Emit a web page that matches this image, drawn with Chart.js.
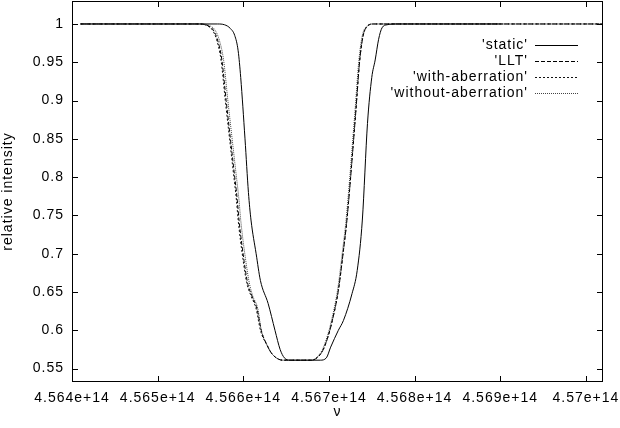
<!DOCTYPE html>
<html>
<head>
<meta charset="utf-8">
<script src="https://cdn.jsdelivr.net/npm/chart.js@4.4.1/dist/chart.umd.min.js"></script>
<style>
  html, body { margin: 0; padding: 0; background: #fff; }
  #wrap { width: 620px; height: 428px; }
</style>
</head>
<body>
<div id="wrap"><canvas id="lineChart" width="620" height="428"></canvas></div>
<script>
// frequency ticks (Hz) and labels as gnuplot prints them
const xTicks = [4.564e14, 4.565e14, 4.566e14, 4.567e14, 4.568e14, 4.569e14, 4.570e14];
const xTickLabels = ['4.564e+14', '4.565e+14', '4.566e+14', '4.567e+14', '4.568e+14', '4.569e+14', '4.57e+14'];
const yTicks = [0.55, 0.6, 0.65, 0.7, 0.75, 0.8, 0.85, 0.9, 0.95, 1];
const yTickLabels = ['0.55', '0.6', '0.65', '0.7', '0.75', '0.8', '0.85', '0.9', '0.95', '1'];

const seriesNames = ["'static'", "'LLT'", "'with-aberration'", "'without-aberration'"];

// 'static'
const staticX = [4.56410e14, 4.56570e14, 4.56578e14, 4.56585e14, 4.56590e14, 4.56594e14, 4.56597e14, 4.56602e14, 4.56606e14, 4.56609e14, 4.56615e14, 4.56620e14, 4.56629e14, 4.56637e14, 4.56643e14, 4.56648e14, 4.56655e14, 4.56690e14, 4.56697e14, 4.56702e14, 4.56711e14, 4.56717e14, 4.56727e14, 4.56733e14, 4.56739e14, 4.56745e14, 4.56750e14, 4.56754e14, 4.56758e14, 4.56762e14, 4.56768e14, 4.56780e14, 4.56900e14];
const staticY = [1, 1, 0.999, 0.994, 0.985, 0.965, 0.930, 0.850, 0.780, 0.744, 0.700, 0.665, 0.635, 0.600, 0.575, 0.564, 0.561, 0.561, 0.564, 0.578, 0.600, 0.613, 0.648, 0.678, 0.744, 0.870, 0.930, 0.953, 0.980, 0.995, 0.999, 1, 1];

// 'LLT'
const lltX = [4.56410e14, 4.56550e14, 4.56560e14, 4.56565e14, 4.56570e14, 4.56575e14, 4.56580e14, 4.56589e14, 4.56593e14, 4.56595e14, 4.56601e14, 4.56605e14, 4.56610e14, 4.56616e14, 4.56621e14, 4.56628e14, 4.56633e14, 4.56640e14, 4.56646e14, 4.56680e14, 4.56687e14, 4.56693e14, 4.56699e14, 4.56704e14, 4.56711e14, 4.56717e14, 4.56721e14, 4.56731e14, 4.56736e14, 4.56740e14, 4.56745e14, 4.56752e14, 4.57020e14];
const lltY = [1, 1, 0.997, 0.992, 0.979, 0.953, 0.900, 0.810, 0.770, 0.744, 0.690, 0.662, 0.645, 0.628, 0.600, 0.580, 0.570, 0.563, 0.561, 0.561, 0.565, 0.574, 0.592, 0.613, 0.652, 0.705, 0.744, 0.880, 0.953, 0.985, 0.997, 1, 1];

// 'with-aberration'
const withX = [4.56410e14, 4.56549e14, 4.56559e14, 4.56564e14, 4.56569e14, 4.56574e14, 4.56579e14, 4.56588e14, 4.56592e14, 4.56594e14, 4.56600e14, 4.56604e14, 4.56609e14, 4.56615e14, 4.56620e14, 4.56628e14, 4.56633e14, 4.56640e14, 4.56646e14, 4.56680e14, 4.56687e14, 4.56693e14, 4.56699e14, 4.56704e14, 4.56711e14, 4.56717e14, 4.56721e14, 4.56731e14, 4.56736e14, 4.56740e14, 4.56745e14, 4.56752e14, 4.57020e14];
const withY = [1, 1, 0.997, 0.992, 0.979, 0.953, 0.900, 0.810, 0.770, 0.744, 0.690, 0.662, 0.645, 0.628, 0.600, 0.580, 0.570, 0.563, 0.561, 0.561, 0.565, 0.574, 0.592, 0.613, 0.652, 0.705, 0.744, 0.880, 0.953, 0.985, 0.997, 1, 1];

// 'without-aberration'
const withoutX = [4.56410e14, 4.56552e14, 4.56562e14, 4.56567e14, 4.56572e14, 4.56577e14, 4.56582e14, 4.56591e14, 4.56595e14, 4.56597e14, 4.56603e14, 4.56607e14, 4.56611e14, 4.56617e14, 4.56621e14, 4.56628e14, 4.56633e14, 4.56640e14, 4.56646e14, 4.56680e14, 4.56686e14, 4.56692e14, 4.56698e14, 4.56703e14, 4.56710e14, 4.56716e14, 4.56720e14, 4.56730e14, 4.56735e14, 4.56739e14, 4.56744e14, 4.56751e14, 4.57020e14];
const withoutY = [1, 1, 0.997, 0.992, 0.979, 0.953, 0.900, 0.810, 0.770, 0.744, 0.690, 0.662, 0.645, 0.628, 0.600, 0.580, 0.570, 0.563, 0.561, 0.561, 0.565, 0.574, 0.592, 0.613, 0.652, 0.705, 0.744, 0.880, 0.953, 0.985, 0.997, 1, 1];

const FONT = "'Liberation Sans', Arial, sans-serif";
const dashes = [[], [4, 2], [2, 2], [1, 1]];
const colors = ['#000000', '#000000', '#111111', '#444444'];

function toPoints(xs, ys) {
    return xs.map((x, i) => ({ x: x, y: ys[i] }));
}

// gnuplot's bitmap font is wide, a bit of letter spacing gets close
const spacing = {
    id: 'spacing',
    beforeUpdate(chart) { chart.ctx.letterSpacing = '1px'; },
    beforeDraw(chart) { chart.ctx.letterSpacing = '1px'; }
};

// gnuplot-like frame, inward ticks on all sides, legend inside top-right
const gnuFrame = {
    id: 'gnuFrame',
    afterDraw(chart) {
        const c = chart.ctx;
        const a = chart.chartArea;
        const xs = chart.scales.x, ys = chart.scales.y;
        const tl = 6;
        c.save();
        c.strokeStyle = '#000';
        c.lineWidth = 1;
        c.setLineDash([]);
        c.beginPath();
        xs.ticks.forEach(t => {
            const p = Math.round(xs.getPixelForValue(t.value)) + 0.5;
            c.moveTo(p, a.bottom); c.lineTo(p, a.bottom - tl);
            c.moveTo(p, a.top); c.lineTo(p, a.top + tl);
        });
        ys.ticks.forEach(t => {
            const p = Math.round(ys.getPixelForValue(t.value)) + 0.5;
            c.moveTo(a.left, p); c.lineTo(a.left + tl, p);
            c.moveTo(a.right, p); c.lineTo(a.right - tl, p);
        });
        c.stroke();
        c.strokeRect(Math.round(a.left) + 0.5, Math.round(a.top) + 0.5,
            Math.round(a.right - a.left) - 1, Math.round(a.bottom - a.top) - 1);

        // legend
        c.font = '14px ' + FONT;
        c.letterSpacing = '1px';
        c.textAlign = 'right';
        c.textBaseline = 'middle';
        chart.data.datasets.forEach((ds, i) => {
            const y = 45 + i * 16;
            c.fillStyle = '#000';
            c.fillText(ds.label, 528, y);
            c.strokeStyle = ds.borderColor;
            c.setLineDash(ds.borderDash);
            c.beginPath();
            c.moveTo(535, y + 0.5);
            c.lineTo(578, y + 0.5);
            c.stroke();
        });
        c.restore();
    }
};

const ctx = document.getElementById('lineChart').getContext('2d');
const seriesX = [staticX, lltX, withX, withoutX];
const seriesY = [staticY, lltY, withY, withoutY];

const lineChart = new Chart(ctx, {
    type: 'line',
    data: {
        datasets: seriesNames.map((name, i) => ({
            label: name,
            data: toPoints(seriesX[i], seriesY[i]),
            borderColor: colors[i],
            borderWidth: 1,
            borderDash: dashes[i],
            pointRadius: 0,
            cubicInterpolationMode: 'monotone',
            fill: false
        }))
    },
    options: {
        responsive: false,
        animation: false,
        layout: { padding: { top: 1, right: 17, left: 0, bottom: 0 } },
        plugins: {
            legend: { display: false },
            tooltip: { enabled: false }
        },
        scales: {
            x: {
                type: 'linear',
                min: 4.564e14,
                max: 4.5702e14,
                grid: { display: false, drawTicks: false },
                border: { display: false },
                afterBuildTicks: (s) => { s.ticks = xTicks.map(v => ({ value: v })); },
                afterFit: (s) => { s.height = 46; s.paddingLeft = 0; s.paddingRight = 0; },
                ticks: {
                    color: '#000',
                    padding: 8,
                    maxRotation: 0,
                    autoSkip: false,
                    font: { family: FONT, size: 14 },
                    callback: (v, i) => xTickLabels[i]
                },
                title: {
                    display: true,
                    text: 'ν',
                    color: '#000',
                    font: { family: FONT, size: 14 },
                    padding: { top: 0, bottom: 7 }
                }
            },
            y: {
                type: 'linear',
                min: 0.5325,
                max: 1.030,
                grid: { display: false, drawTicks: false },
                border: { display: false },
                afterBuildTicks: (s) => { s.ticks = yTicks.map(v => ({ value: v })); },
                afterFit: (s) => { s.width = 72; s.paddingTop = 0; s.paddingBottom = 0; },
                ticks: {
                    color: '#000',
                    padding: 8,
                    autoSkip: false,
                    font: { family: FONT, size: 14 },
                    callback: (v, i) => yTickLabels[i]
                },
                title: {
                    display: true,
                    text: 'relative intensity',
                    color: '#000',
                    font: { family: FONT, size: 14 },
                    padding: { top: 0, bottom: 0 }
                }
            }
        }
    },
    plugins: [spacing, gnuFrame]
});
</script>
</body>
</html>
